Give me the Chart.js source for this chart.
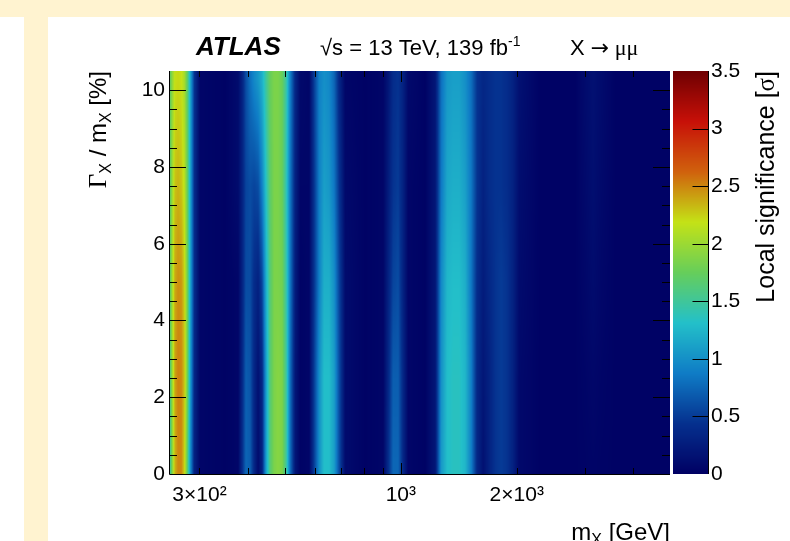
<!DOCTYPE html>
<html>
<head>
<meta charset="utf-8">
<script src="https://cdn.jsdelivr.net/npm/chart.js@4.4.1/dist/chart.umd.min.js"></script>
<style>
  html, body { margin: 0; padding: 0; background: #fff; }
  #wrap { position: relative; width: 790px; height: 541px; overflow: hidden; }
  #topband { position: absolute; left: 0; top: 0; width: 790px; height: 17px; background: #fff3d0; }
  #leftband { position: absolute; left: 24px; top: 17px; width: 24px; height: 524px; background: #fff3d0; }
  canvas { position: absolute; left: 0; top: 0; }
</style>
</head>
<body>
<div id="wrap">
  <div id="topband"></div>
  <div id="leftband"></div>
  <canvas id="scanChart" width="790" height="541"></canvas>
</div>
<script>
// mass points of the scan (GeV)
const massPoints = [250, 255, 259, 264, 269, 274, 279, 284, 291, 301,
  350, 378, 387, 396, 406, 416, 426, 436, 447, 458, 469, 480, 492, 504, 516, 532, 548,
  578, 595, 614, 632, 651, 671, 692, 717,
  808, 900, 927, 955, 984, 1014, 1045,
  1157, 1228, 1273, 1319, 1367, 1417, 1469, 1523, 1578, 1636, 1696, 1758, 1822, 1888, 1957, 2029, 2301,
  2836, 3011, 3158, 3313, 3603, 5000];

// relative width rows (%)
const widthRows = [0.25, 2.5, 5, 7.5, 10.25];

// local significance read at each width row
const sigW0 = [1.3, 1.9, 2.35, 2.5, 2.5, 2.25, 1.7, 1.0, 0.3, 0.05,
  0.02, 0.05, 0.4, 0.75, 0.7, 0.35, 0.1, 0.3, 1.1, 1.65, 1.85, 1.9, 1.85, 1.5, 0.8, 0.2, 0.03,
  0.05, 0.5, 1.0, 1.3, 1.3, 1.1, 0.6, 0.1,
  0.02, 0.05, 0.4, 0.75, 0.75, 0.35, 0.05,
  0.02, 0.2, 1.05, 1.3, 1.35, 1.35, 1.25, 0.9, 0.35, 0.15, 0.3, 0.45, 0.5, 0.45, 0.3, 0.08, 0.02,
  0.02, 0.03, 0.04, 0.03, 0.02, 0.02];
const sigW2p5 = [1.4, 2.0, 2.4, 2.52, 2.5, 2.3, 1.8, 1.1, 0.35, 0.05,
  0.02, 0.05, 0.35, 0.7, 0.65, 0.35, 0.15, 0.35, 1.1, 1.65, 1.85, 1.9, 1.85, 1.5, 0.8, 0.2, 0.03,
  0.05, 0.5, 1.0, 1.3, 1.3, 1.1, 0.6, 0.1,
  0.02, 0.05, 0.35, 0.7, 0.7, 0.35, 0.05,
  0.02, 0.2, 1.0, 1.3, 1.35, 1.35, 1.25, 0.9, 0.35, 0.2, 0.3, 0.45, 0.5, 0.45, 0.3, 0.08, 0.02,
  0.02, 0.04, 0.06, 0.04, 0.02, 0.02];
const sigW5 = [1.5, 2.05, 2.38, 2.47, 2.45, 2.25, 1.8, 1.15, 0.4, 0.05,
  0.02, 0.05, 0.3, 0.6, 0.6, 0.4, 0.3, 0.55, 1.2, 1.65, 1.85, 1.85, 1.8, 1.45, 0.85, 0.25, 0.03,
  0.05, 0.45, 0.9, 1.2, 1.2, 1.0, 0.55, 0.1,
  0.02, 0.05, 0.3, 0.55, 0.6, 0.3, 0.05,
  0.02, 0.2, 0.95, 1.25, 1.3, 1.3, 1.2, 0.85, 0.4, 0.25, 0.35, 0.45, 0.5, 0.45, 0.3, 0.1, 0.02,
  0.02, 0.06, 0.1, 0.06, 0.02, 0.02];
const sigW7p5 = [1.55, 2.0, 2.3, 2.35, 2.3, 2.15, 1.75, 1.15, 0.4, 0.05,
  0.02, 0.1, 0.3, 0.55, 0.6, 0.55, 0.6, 0.9, 1.35, 1.7, 1.85, 1.85, 1.75, 1.4, 0.85, 0.3, 0.05,
  0.05, 0.45, 0.9, 1.1, 1.05, 0.85, 0.45, 0.08,
  0.02, 0.05, 0.25, 0.45, 0.5, 0.3, 0.05,
  0.02, 0.2, 0.85, 1.15, 1.2, 1.2, 1.1, 0.85, 0.45, 0.3, 0.4, 0.45, 0.45, 0.4, 0.3, 0.12, 0.02,
  0.02, 0.08, 0.13, 0.08, 0.02, 0.02];
const sigW10 = [1.6, 1.95, 2.2, 2.22, 2.2, 2.05, 1.7, 1.15, 0.45, 0.05,
  0.02, 0.1, 0.3, 0.6, 0.8, 0.95, 1.05, 1.2, 1.5, 1.75, 1.85, 1.85, 1.75, 1.45, 0.9, 0.35, 0.08,
  0.05, 0.5, 0.9, 1.0, 0.95, 0.75, 0.35, 0.05,
  0.02, 0.05, 0.2, 0.4, 0.45, 0.3, 0.08,
  0.02, 0.2, 0.8, 1.05, 1.1, 1.1, 1.0, 0.8, 0.45, 0.35, 0.4, 0.45, 0.45, 0.4, 0.3, 0.15, 0.02,
  0.02, 0.1, 0.15, 0.1, 0.02, 0.02];
const significance = [sigW0, sigW2p5, sigW5, sigW7p5, sigW10];

// axis ticks
const xTickValues = [300, 400, 500, 600, 700, 800, 900, 1000, 2000, 3000, 4000];
const xTickLabels = {300: '3×10²', 1000: '10³', 2000: '2×10³'};
const yTickValues = [0, 2, 4, 6, 8, 10];
const zTickValues = [0, 0.5, 1, 1.5, 2, 2.5, 3, 3.5];
const zTickLabels = ['0', '0.5', '1', '1.5', '2', '2.5', '3', '3.5'];

// ROOT rainbow palette stops
const palR = [0, 5, 15, 35, 102, 196, 208, 199, 110];
const palG = [0, 48, 124, 192, 206, 226, 97, 16, 0];
const palB = [99, 142, 198, 201, 90, 22, 13, 8, 2];
const zMax = 3.5;

function colourFor(v) {
  let t = Math.max(0, Math.min(1, v / zMax)) * (palR.length - 1);
  let k = Math.min(palR.length - 2, Math.floor(t));
  let f = t - k;
  return [
    Math.round(palR[k] + (palR[k + 1] - palR[k]) * f),
    Math.round(palG[k] + (palG[k + 1] - palG[k]) * f),
    Math.round(palB[k] + (palB[k + 1] - palB[k]) * f)
  ];
}

const FONT = '"Liberation Sans", Arial, Helvetica, sans-serif';
const SERIF = '"Liberation Serif", "DejaVu Serif", serif';

function runsWidth(ctx, runs) {
  let w = 0;
  runs.forEach(r => { ctx.font = r.font; w += ctx.measureText(r.t).width; });
  return w;
}
function drawRuns(ctx, runs, x, y) {
  runs.forEach(r => {
    ctx.font = r.font;
    ctx.fillText(r.t, x, y + (r.dy || 0));
    x += ctx.measureText(r.t).width;
  });
}

const heatmap = {
  id: 'heatmap',
  beforeDatasetsDraw(chart) {
    const ctx = chart.ctx, a = chart.chartArea;
    const xs = chart.scales.x, ys = chart.scales.y, zs = chart.scales.z;
    const left = Math.round(a.left), top = Math.round(a.top);
    const w = Math.round(a.right) - left, h = Math.round(a.bottom) - top;
    const img = ctx.createImageData(w, h);
    const logM = massPoints.map(m => Math.log(m));
    const ci = [], cf = [];
    for (let i = 0; i < w; i++) {
      const lm = Math.log(xs.getValueForPixel(left + i + 0.5));
      let k = 0;
      while (k < logM.length - 2 && lm > logM[k + 1]) k++;
      ci.push(k);
      cf.push(Math.min(1, Math.max(0, (lm - logM[k]) / (logM[k + 1] - logM[k]))));
    }
    for (let j = 0; j < h; j++) {
      const wv = ys.getValueForPixel(top + j + 0.5);
      let r = 0;
      while (r < widthRows.length - 2 && wv > widthRows[r + 1]) r++;
      const g = Math.min(1, Math.max(0, (wv - widthRows[r]) / (widthRows[r + 1] - widthRows[r])));
      const lo = significance[r], hi = significance[r + 1];
      for (let i = 0; i < w; i++) {
        const k = ci[i], f = cf[i];
        const v = (lo[k] * (1 - f) + lo[k + 1] * f) * (1 - g) + (hi[k] * (1 - f) + hi[k + 1] * f) * g;
        const c = colourFor(v);
        const p = (j * w + i) * 4;
        img.data[p] = c[0]; img.data[p + 1] = c[1]; img.data[p + 2] = c[2]; img.data[p + 3] = 255;
      }
    }
    ctx.putImageData(img, left, top);

    // colour bar
    const bx = zs.left + 3;
    for (let py = Math.round(zs.top); py < Math.round(zs.bottom); py++) {
      const c = colourFor(zs.getValueForPixel(py + 0.5));
      ctx.fillStyle = 'rgb(' + c[0] + ',' + c[1] + ',' + c[2] + ')';
      ctx.fillRect(bx, py, 35, 1);
    }
  },
  afterDraw(chart) {
    const ctx = chart.ctx, a = chart.chartArea;
    const xs = chart.scales.x, ys = chart.scales.y, zs = chart.scales.z;
    ctx.save();
    ctx.strokeStyle = '#000';
    ctx.lineWidth = 1;
    ctx.beginPath();
    ctx.moveTo(a.left + 0.5, a.top);
    ctx.lineTo(a.left + 0.5, a.bottom + 0.5);
    ctx.lineTo(a.right, a.bottom + 0.5);
    xTickValues.forEach(m => {
      const px = Math.round(xs.getPixelForValue(m)) + 0.5;
      const len = m === 1000 ? 11 : 6;
      ctx.moveTo(px, a.bottom); ctx.lineTo(px, a.bottom - len);
      ctx.moveTo(px, a.top); ctx.lineTo(px, a.top + len);
    });
    for (let v = 0.5; v < 10.5; v += 0.5) {
      const py = Math.round(ys.getPixelForValue(v)) + 0.5;
      const len = v % 2 === 0 ? 17 : 8;
      ctx.moveTo(a.left, py); ctx.lineTo(a.left + len, py);
      ctx.moveTo(a.right, py); ctx.lineTo(a.right - len, py);
    }
    const bx = zs.left + 38 + 0.5;
    ctx.moveTo(bx, zs.top); ctx.lineTo(bx, zs.bottom);
    zTickValues.slice(1, -1).forEach(v => {
      const py = Math.round(zs.getPixelForValue(v)) + 0.5;
      ctx.moveTo(bx, py); ctx.lineTo(bx - 16, py);
    });
    ctx.stroke();

    ctx.fillStyle = '#000';
    ctx.textBaseline = 'alphabetic';
    ctx.textAlign = 'left';
    const F24 = '24px ' + FONT, F16 = '16px ' + FONT;

    // header
    ctx.font = 'italic bold 26px ' + FONT;
    ctx.fillText('ATLAS', 196, 55);
    drawRuns(ctx, [
      {t: '√s = 13 TeV, 139 fb', font: '22px ' + FONT},
      {t: '-1', font: '14px ' + FONT, dy: -9}
    ], 320, 55);
    drawRuns(ctx, [
      {t: 'X ', font: '22px ' + FONT},
      {t: '→', font: '22px "DejaVu Sans", sans-serif'},
      {t: ' μμ', font: '22px ' + SERIF}
    ], 570, 55);

    // x title
    const xRuns = [
      {t: 'm', font: F24},
      {t: 'X', font: F16, dy: 5},
      {t: ' [GeV]', font: F24}
    ];
    drawRuns(ctx, xRuns, a.right - runsWidth(ctx, xRuns), 540);

    // y title
    const yRuns = [
      {t: 'Γ', font: '25px ' + SERIF},
      {t: 'X', font: F16, dy: 5},
      {t: ' / m', font: F24},
      {t: 'X', font: F16, dy: 5},
      {t: ' [%]', font: F24}
    ];
    ctx.save();
    ctx.translate(106, a.top);
    ctx.rotate(-Math.PI / 2);
    drawRuns(ctx, yRuns, -runsWidth(ctx, yRuns), 0);
    ctx.restore();

    // colour bar title
    const F25 = '25px ' + FONT;
    const zRuns = [
      {t: 'Local significance [', font: F25},
      {t: 'σ', font: '25px ' + SERIF},
      {t: ']', font: F25}
    ];
    ctx.save();
    ctx.translate(774, a.top);
    ctx.rotate(-Math.PI / 2);
    drawRuns(ctx, zRuns, -runsWidth(ctx, zRuns), 0);
    ctx.restore();
    ctx.restore();
  }
};

const tickFont = {family: FONT, size: 21};

new Chart(document.getElementById('scanChart'), {
  type: 'scatter',
  data: {
    datasets: [
      {data: [], xAxisID: 'x', yAxisID: 'y', pointRadius: 0},
      {data: [], xAxisID: 'x', yAxisID: 'z', pointRadius: 0}
    ]
  },
  options: {
    responsive: false,
    animation: false,
    layout: {padding: {top: 71, left: 0, right: 0, bottom: 0}},
    plugins: {legend: {display: false}, tooltip: {enabled: false}},
    scales: {
      x: {
        type: 'logarithmic',
        position: 'bottom',
        min: 250,
        max: 5000,
        grid: {display: false, drawTicks: false},
        border: {display: false},
        afterBuildTicks: s => { s.ticks = xTickValues.map(v => ({value: v})); },
        afterFit: s => { s.height = 67; },
        ticks: {
          autoSkip: false,
          maxRotation: 0,
          padding: 9,
          color: '#000',
          font: tickFont,
          callback: v => xTickLabels[v] || ''
        }
      },
      y: {
        type: 'linear',
        position: 'left',
        min: 0,
        max: 10.5,
        grid: {display: false, drawTicks: false},
        border: {display: false},
        afterBuildTicks: s => { s.ticks = yTickValues.map(v => ({value: v})); },
        afterFit: s => { s.width = 169; },
        ticks: {padding: 4, color: '#000', font: tickFont}
      },
      z: {
        type: 'linear',
        position: 'right',
        min: 0,
        max: zMax,
        grid: {display: false, drawTicks: false},
        border: {display: false},
        afterBuildTicks: s => { s.ticks = zTickValues.map(v => ({value: v})); },
        afterFit: s => { s.width = 120; },
        ticks: {
          padding: 41,
          color: '#000',
          font: tickFont,
          callback: (v, i) => zTickLabels[i]
        }
      }
    }
  },
  plugins: [heatmap]
});
</script>
</body>
</html>
